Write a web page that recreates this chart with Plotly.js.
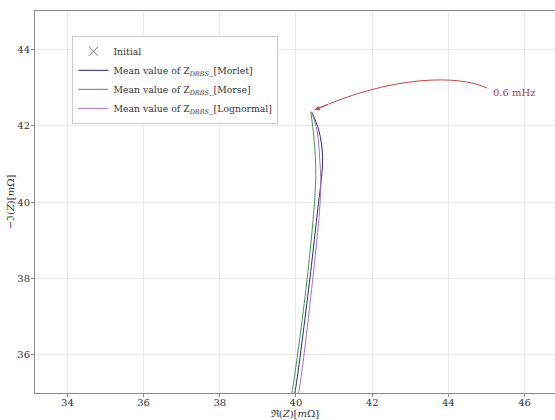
<!DOCTYPE html>
<html>
<head>
<meta charset="utf-8">
<script src="https://cdn.plot.ly/plotly-3.0.1.min.js"></script>
<style>html,body{margin:0;padding:0;background:#fff;}#plot{width:555px;height:420px;}</style>
</head>
<body>
<div id="plot"></div>
<script>
// Series (Re(Z) in mΩ, -Im(Z) in mΩ)
const morletRe = [40.41, 40.60, 40.70, 40.65, 40.60, 40.33, 39.97, 39.94];
const morletIm = [42.36, 41.88, 41.18, 40.45, 40.05, 37.70, 35.00, 34.90];
const morseRe  = [40.39, 40.47, 40.52, 40.49, 40.26, 39.89, 39.86];
const morseIm  = [42.36, 41.70, 40.92, 40.05, 37.70, 35.00, 34.90];
const lognRe   = [40.41, 40.55, 40.62, 40.65, 40.41, 40.07, 40.04];
const lognIm   = [42.36, 41.88, 41.18, 40.31, 37.70, 35.00, 34.90];
const initialRe = [48.0];
const initialIm = [47.0];
const seriesNames = ['Initial',
  'Mean value of Z<sub><i>DRBS</i></sub>_[Morlet]',
  'Mean value of Z<sub><i>DRBS</i></sub>_[Morse]',
  'Mean value of Z<sub><i>DRBS</i></sub>_[Lognormal]'];
const xTicks = [34, 36, 38, 40, 42, 44, 46];
const yTicks = [36, 38, 40, 42, 44];
const annText = '0.6 mHz';
const annTip = [40.49, 42.41];
const annStart = [45.02, 42.98];
const annCtrl1 = [44.30, 43.33];
const annCtrl2 = [42.55, 43.33];

const serif = 'DejaVu Serif, Liberation Serif, serif';
const traces = [
  {x: initialRe, y: initialIm, name: seriesNames[0], mode: 'markers', type: 'scatter',
   marker: {symbol: 'x-thin-open', size: 9, color: '#777', line: {width: 1, color: '#777'}}},
  {x: morletRe, y: morletIm, name: seriesNames[1], mode: 'lines', type: 'scatter',
   line: {color: '#262d6e', width: 1, shape: 'spline'}},
  {x: morseRe, y: morseIm, name: seriesNames[2], mode: 'lines', type: 'scatter',
   line: {color: '#3f9a4f', width: 1, shape: 'spline'}},
  {x: lognRe, y: lognIm, name: seriesNames[3], mode: 'lines', type: 'scatter',
   line: {color: '#a870c0', width: 1, shape: 'spline'}}
];

const axisCommon = {
  showline: true, linecolor: '#8a8a8a', linewidth: 1, mirror: true,
  showgrid: true, gridcolor: '#e8e8e8', gridwidth: 1,
  ticks: 'outside', ticklen: 3, tickcolor: '#8a8a8a', ticklabelstandoff: -3,
  zeroline: false, automargin: false, tickfont: {family: serif, size: 10, color: '#333'}
};

const layout = {
  width: 555, height: 420,
  margin: {l: 35, r: 0, t: 11, b: 27},
  paper_bgcolor: '#fff', plot_bgcolor: '#fff',
  showlegend: true,
  legend: {x: 0.072, y: 0.935, xanchor: 'left', yanchor: 'top',
    bgcolor: 'rgba(255,255,255,0.9)', bordercolor: '#cccccc', borderwidth: 1,
    font: {family: serif, size: 9.3, color: '#333'}, tracegroupgap: 0},
  xaxis: Object.assign({}, axisCommon, {range: [33.15, 46.8], tickvals: xTicks,
    title: {text: 'ℜ(<i>Z</i>)[<i>m</i>Ω]', font: {family: serif, size: 10, color: '#333'}, standoff: 0}}),
  yaxis: Object.assign({}, axisCommon, {range: [35.0, 45.0], tickvals: yTicks, ticklabelstandoff: -1,
    title: {text: '−ℑ(<i>Z</i>)[<i>m</i>Ω]', font: {family: serif, size: 10, color: '#333'}, standoff: 0}}),
  shapes: [{type: 'path', xref: 'x', yref: 'y',
    path: 'M ' + annStart[0] + ',' + annStart[1] + ' C ' + annCtrl1[0] + ',' + annCtrl1[1] + ' ' +
          annCtrl2[0] + ',' + annCtrl2[1] + ' ' + annTip[0] + ',' + annTip[1],
    line: {color: '#c04848', width: 1}}],
  annotations: [
    {x: annTip[0], y: annTip[1], xref: 'x', yref: 'y', ax: 14, ay: -6, axref: 'pixel', ayref: 'pixel',
     text: '', showarrow: true, arrowhead: 2, arrowsize: 1, arrowwidth: 1, arrowcolor: '#c04848'},
    {x: annStart[0], y: annStart[1], xref: 'x', yref: 'y', text: annText, showarrow: false,
     xanchor: 'left', yanchor: 'middle', xshift: 4, yshift: -4,
     font: {family: serif, size: 10, color: '#b03a3a'}}
  ]
};

Plotly.newPlot('plot', traces, layout, {displayModeBar: false, staticPlot: true});
</script>
</body>
</html>
